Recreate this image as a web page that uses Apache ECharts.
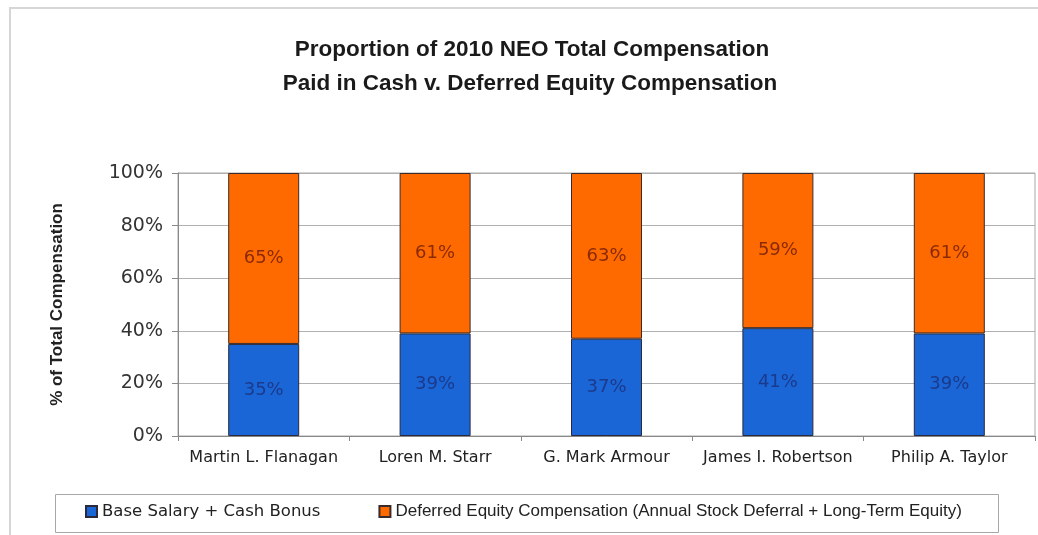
<!DOCTYPE html>
<html>
<head>
<meta charset="utf-8">
<script src="https://cdn.jsdelivr.net/npm/echarts@6/dist/echarts.min.js"></script>
<style>
html,body{margin:0;padding:0;background:#fff;}
#c{width:1038px;height:535px;}
</style>
</head>
<body>
<div id="c"></div>
<script>
const categories = ['Martin L. Flanagan', 'Loren M. Starr', 'G. Mark Armour', 'James I. Robertson', 'Philip A. Taylor'];
const cashValues = [35, 39, 37, 41, 39];
const equityValues = [65, 61, 63, 59, 61];
const seriesNames = ['Base Salary + Cash Bonus', 'Deferred Equity Compensation (Annual Stock Deferral + Long-Term Equity)'];
const titleLines = ['Proportion of 2010 NEO Total Compensation', 'Paid in Cash v. Deferred Equity Compensation'];
const yAxisName = '% of Total Compensation';

const chart = echarts.init(document.getElementById('c'), null, {renderer: 'canvas'});
const titleStyle = {fontFamily: 'Liberation Sans', fontWeight: 'bold', fontSize: 22.5, color: '#1a1a1a'};
const option = {
  backgroundColor: '#ffffff',
  animation: false,
  title: [
    {text: titleLines[0], left: 532, top: 38, textAlign: 'center', padding: 0, textStyle: titleStyle},
    {text: titleLines[1], left: 530, top: 72, textAlign: 'center', padding: 0, textStyle: titleStyle}
  ],
  graphic: [
    {type: 'rect', z: -10, silent: true, shape: {x: 10, y: 8, width: 1040, height: 540},
     style: {fill: 'none', stroke: '#d6d6d6', lineWidth: 2}},
    {type: 'rect', z: -5, silent: true, shape: {x: 55.5, y: 494.5, width: 943, height: 38},
     style: {fill: '#fff', stroke: '#a8a8a8', lineWidth: 1}}
  ],
  legend: {
    left: 85, top: 503, padding: 0, itemGap: 58,
    itemWidth: 11, itemHeight: 11, icon: 'rect',
    data: seriesNames,
    formatter: function (name) { return name === seriesNames[0] ? '{a|' + name + '}' : '{b|' + name + '}'; },
    textStyle: {
      color: '#222',
      rich: {
        a: {fontFamily: 'DejaVu Sans', fontSize: 16.5, lineHeight: 20, color: '#222'},
        b: {fontFamily: 'Liberation Sans', fontSize: 17, lineHeight: 20, color: '#222'}
      }
    }
  },
  grid: {left: 178, right: 3, top: 173, bottom: 99, show: true, borderColor: '#a8a8a8', borderWidth: 1, backgroundColor: '#fff'},
  xAxis: {
    type: 'category', data: categories,
    axisLine: {lineStyle: {color: '#888'}},
    axisTick: {show: true, interval: 0, length: 5, lineStyle: {color: '#888'}},
    axisLabel: {interval: 0, fontFamily: 'DejaVu Sans', fontSize: 16, color: '#222', margin: 14}
  },
  yAxis: {
    type: 'value', min: 0, max: 100, interval: 20,
    name: yAxisName, nameLocation: 'middle', nameRotate: 90, nameGap: 112,
    nameTextStyle: {fontFamily: 'Liberation Sans', fontWeight: 'bold', fontSize: 17, color: '#222'},
    axisLine: {show: true, lineStyle: {color: '#888'}},
    axisTick: {show: true, length: 6, lineStyle: {color: '#888'}},
    axisLabel: {formatter: '{value}%', fontFamily: 'DejaVu Sans', fontSize: 19, color: '#333', margin: 15},
    splitLine: {lineStyle: {color: '#b0b0b0'}}
  },
  series: [
    {
      name: seriesNames[0], type: 'bar', stack: 'total', barWidth: 71,
      data: cashValues,
      itemStyle: {color: '#1a66d6', borderColor: '#2a2a3a', borderWidth: 1},
      label: {show: true, position: 'inside', formatter: '{c}%', fontFamily: 'DejaVu Sans', fontSize: 18, color: '#1b3a8c'}
    },
    {
      name: seriesNames[1], type: 'bar', stack: 'total', barWidth: 71,
      data: equityValues,
      itemStyle: {color: '#ff6a00', borderColor: '#3a2a2a', borderWidth: 1},
      label: {show: true, position: 'inside', formatter: '{c}%', fontFamily: 'DejaVu Sans', fontSize: 18, color: '#8a2a05'}
    }
  ]
};
chart.setOption(option);
</script>
</body>
</html>
